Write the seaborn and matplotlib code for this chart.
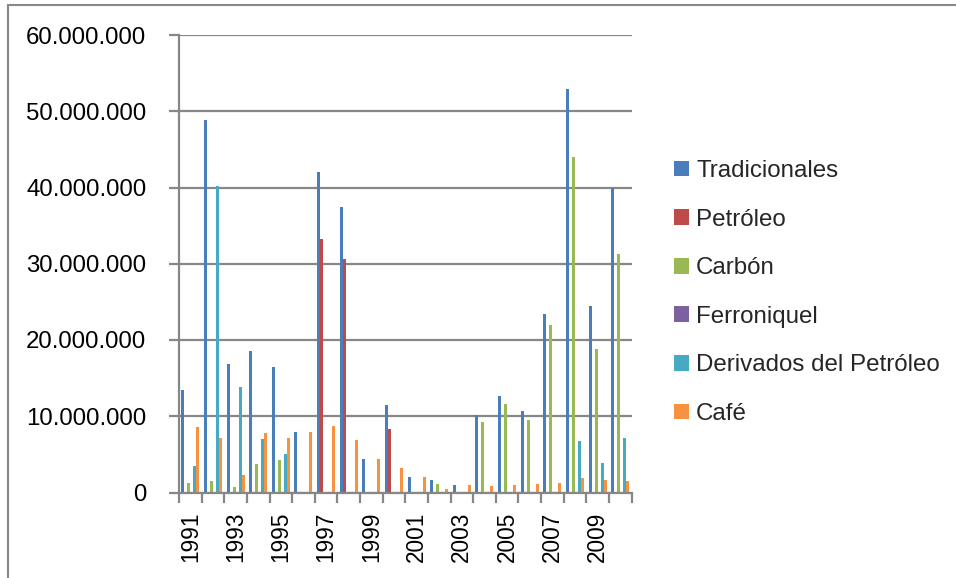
import matplotlib
matplotlib.use("Agg")
import matplotlib.pyplot as plt
import matplotlib.ticker as mticker
from matplotlib.patches import Rectangle
import numpy as np
import pandas as pd
import seaborn as sns

years = [str(y) for y in range(1991, 2011)]
series = ["Tradicionales", "Petróleo", "Carbón", "Ferroniquel",
          "Derivados del Petróleo", "Café"]

tradicionales = [13.4e6, 48.9e6, 16.8e6, 18.6e6, 16.4e6, 8.0e6, 42.0e6, 37.5e6, 4.4e6, 11.5e6,
                 2.0e6, 1.6e6, 1.0e6, 10.1e6, 12.6e6, 10.7e6, 23.4e6, 52.9e6, 24.5e6, 40.0e6]
petroleo = [0, 0, 0, 0, 0, 0, 33.2e6, 30.6e6, 0, 8.3e6,
            0, 0, 0, 0, 0, 0, 0, 0, 0, 0]
carbon = [1.3e6, 1.5e6, 0.7e6, 3.7e6, 4.2e6, 0, 0, 0, 0, 0,
          0, 1.1e6, 0, 9.2e6, 11.6e6, 9.5e6, 22.0e6, 44.0e6, 18.8e6, 31.3e6]
ferroniquel = [0] * 20
derivados = [3.45e6, 40.2e6, 13.8e6, 7.0e6, 5.1e6, 0, 0, 0, 0, 0,
             0, 0, 0, 0, 0, 0, 0, 6.8e6, 3.9e6, 7.1e6]
cafe = [8.6e6, 7.1e6, 2.3e6, 7.8e6, 7.1e6, 8.0e6, 8.75e6, 6.9e6, 4.4e6, 3.2e6,
        2.0e6, 0.4e6, 1.0e6, 0.9e6, 1.0e6, 1.1e6, 1.3e6, 1.9e6, 1.7e6, 1.5e6]

colors = ["#4A7EBB", "#BE4B48", "#98B954", "#7D60A0", "#46AAC5", "#F69240"]

values = [tradicionales, petroleo, carbon, ferroniquel, derivados, cafe]
rows = []
for s, vals in zip(series, values):
    for y, v in zip(years, vals):
        rows.append({"Año": y, "Valor": v, "Serie": s})
df = pd.DataFrame(rows)

sns.set_theme(style="white")
plt.rcParams["font.family"] = ["Liberation Sans", "DejaVu Sans"]

fig = plt.figure(figsize=(9.56, 5.78), dpi=100)
W, H = 956, 578
ax = fig.add_axes([179 / W, 1 - 492.5 / H, (631.5 - 179) / W, (492.5 - 35) / H])

sns.barplot(data=df, x="Año", y="Valor", hue="Serie", hue_order=series,
            order=years, palette=colors, saturation=1, width=0.8,
            linewidth=0, ax=ax, errorbar=None)

ax.set_ylim(0, 60e6)
ax.set_xlim(-0.5, len(years) - 0.5)
ax.yaxis.set_major_locator(mticker.MultipleLocator(10e6))
ax.yaxis.set_major_formatter(mticker.FuncFormatter(
    lambda v, p: f"{int(round(v)):,}".replace(",", ".")))
ax.grid(axis="y", color="#878787", linewidth=1.6)
ax.set_axisbelow(True)

# x ticks: marks at boundaries, labels at centers every other year
ax.set_xticks(np.arange(-0.5, len(years), 1.0))
ax.set_xticklabels([])
ax.set_xticks(np.arange(0, len(years), 2), minor=True)
ax.set_xticklabels(years[::2], minor=True, rotation=90)
ax.tick_params(axis="x", which="major", length=7, width=1.6, color="#878787", direction="out")
ax.tick_params(axis="x", which="minor", length=0, pad=14, labelsize=16.3, labelcolor="black")
ax.tick_params(axis="y", length=7, width=1.6, color="#878787", pad=16.5,
               labelsize=17.3, labelcolor="black", direction="out")
ax.tick_params(left=True, bottom=True)

for side in ["top", "right"]:
    ax.spines[side].set_visible(False)
for side in ["left", "bottom"]:
    ax.spines[side].set_color("#878787")
    ax.spines[side].set_linewidth(1.6)

ax.set_xlabel("")
ax.set_ylabel("")

handles, labels = ax.get_legend_handles_labels()
ax.legend(handles, labels, loc="center left",
          bbox_to_anchor=(674 / W, 1 - 292.5 / H), bbox_transform=fig.transFigure,
          frameon=False, fontsize=17.4, handlelength=0.62, handleheight=0.62,
          handletextpad=0.3, labelspacing=1.1, borderpad=0, borderaxespad=0)

fig.add_artist(Rectangle((8 / W, -0.1), 1.2, (1 - 5 / H) + 0.1,
                         transform=fig.transFigure, fill=False,
                         edgecolor="#888888", linewidth=1.5))

fig.savefig("out.png", dpi=100)
